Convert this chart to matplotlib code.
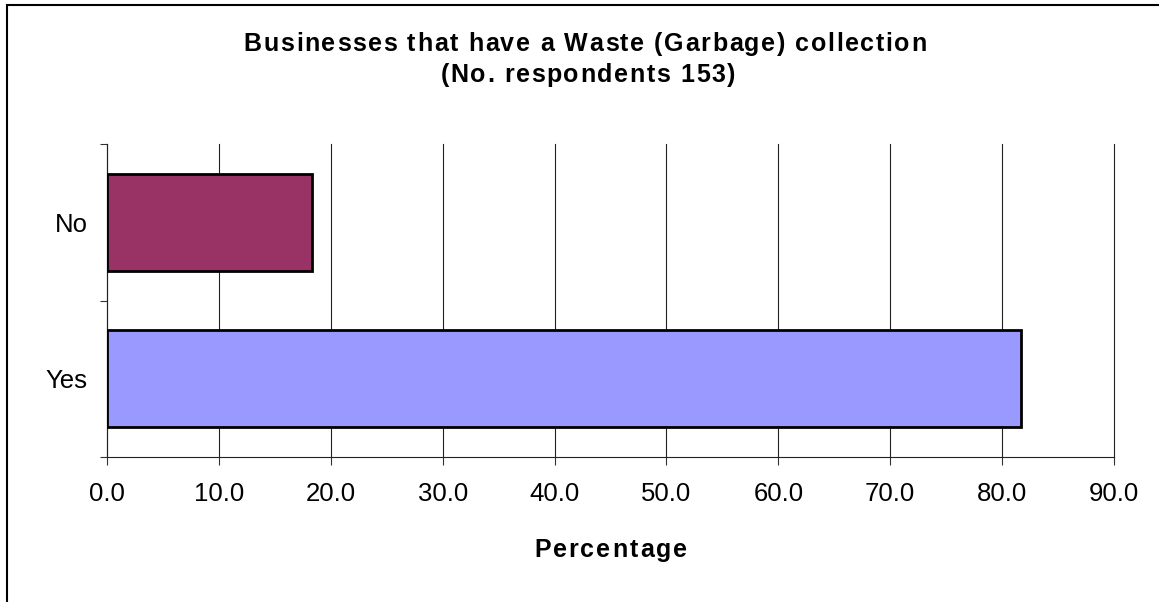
import matplotlib.pyplot as plt
from matplotlib.patches import Rectangle
from matplotlib.font_manager import FontProperties, findfont, get_font

plt.rcParams['font.family'] = ['Liberation Sans', 'DejaVu Sans']

# data (percent of 153 respondents)
categories = ['Yes', 'No']
values = [81.7, 18.3]
colors = ['#9999FF', '#993366']
x_ticks = [0, 10, 20, 30, 40, 50, 60, 70, 80, 90]
title_lines = ['Businesses that have a Waste (Garbage) collection',
               '(No. respondents 153)']
x_label = 'Percentage'

W, H = 1159, 602
fig = plt.figure(figsize=(W / 100, H / 100), dpi=100)


def spaced_text(cx, base_y, s, size, track):
    # centred bold text with extra space between letters (pixel coords)
    prop = FontProperties(family='Liberation Sans', weight='bold', size=size)
    font = get_font(findfont(prop))
    font.set_size(size, 100)
    adv = [font.load_char(ord(c)).linearHoriAdvance / 65536 for c in s]
    x = cx - (sum(adv) + track * (len(s) - 1)) / 2
    for c, a in zip(s, adv):
        if c != ' ':
            fig.text(x / W, 1 - base_y / H, c, fontproperties=prop,
                     ha='left', va='baseline')
        x += a + track


# axes placement in pixels
left, right, top, bottom = 107, 1114, 144, 457
ax = fig.add_axes([left / W, 1 - bottom / H, (right - left) / W, (bottom - top) / H])

ax.barh(range(len(categories)), values, height=0.62, color=colors,
        edgecolor='black', linewidth=2, zorder=3)

ax.set_xlim(0, 90)
ax.set_ylim(-0.5, len(categories) - 0.5)
ax.set_xticks(x_ticks)
ax.set_xticklabels([f'{t:.1f}' for t in x_ticks], fontsize=18.5)
ax.set_yticks([-0.5, 0.5, 1.5])
ax.set_yticklabels([])
ax.set_yticks(range(len(categories)), minor=True)
ax.set_yticklabels(categories, minor=True, fontsize=18.5)
ax.tick_params(axis='y', which='minor', length=0, pad=14)
ax.tick_params(axis='y', which='major', length=5, width=0.8, color='#333333')
ax.tick_params(axis='x', length=6, width=0.8, pad=12, color='#333333')

ax.grid(axis='x', color='#222222', linewidth=0.8, zorder=0)
for gl in ax.get_xgridlines():
    gl.set_clip_on(False)
for s in ['top', 'right']:
    ax.spines[s].set_visible(False)
for s in ['left', 'bottom']:
    ax.spines[s].set_color('#222222')
    ax.spines[s].set_linewidth(0.8)

mid = (left + right) / 2
spaced_text(mid, 557, x_label, 18, 2.0)
spaced_text(585, 51, title_lines[0], 18, 1.6)
spaced_text(588, 82, title_lines[1], 18, 1.6)

# outer chart frame (continues past the right and bottom edges)
fig.patches.append(Rectangle((7 / W, -0.1), 1.2, 1 - 5 / H + 0.1,
                             transform=fig.transFigure, fill=False,
                             edgecolor='black', linewidth=1.5))

fig.savefig('out.png', dpi=100)
